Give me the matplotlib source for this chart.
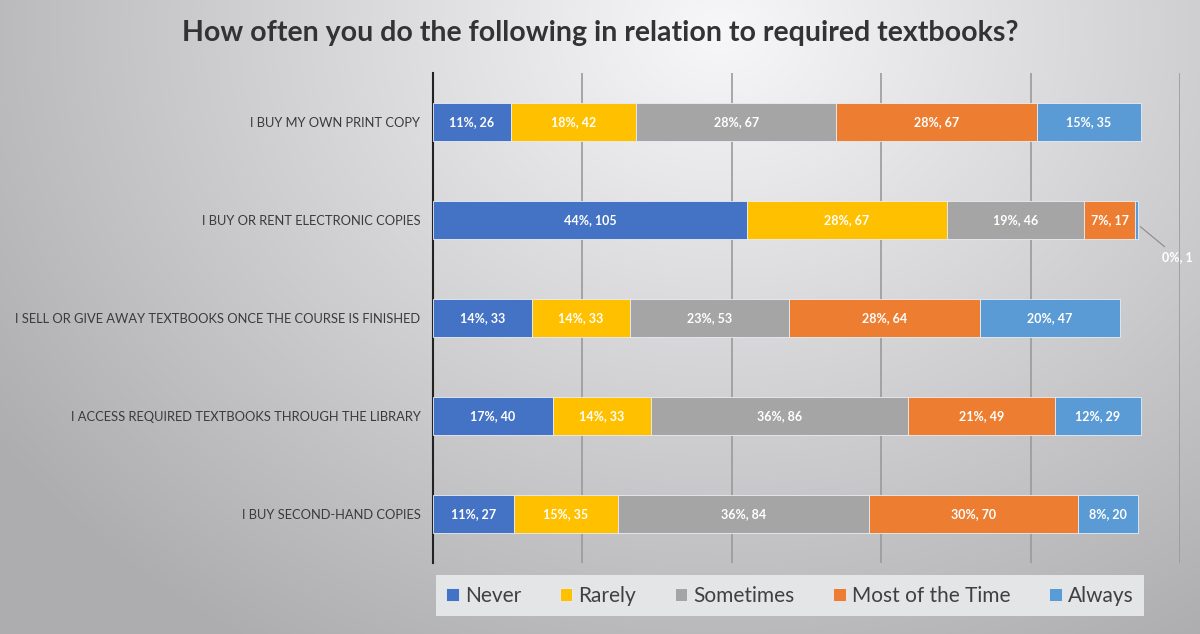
import numpy as np
import matplotlib
matplotlib.use("Agg")
import matplotlib.pyplot as plt

# ---- donnees ----
categories = [
    "I BUY MY OWN PRINT COPY",
    "I BUY OR RENT ELECTRONIC COPIES",
    "I SELL OR GIVE AWAY TEXTBOOKS ONCE THE COURSE IS FINISHED",
    "I ACCESS REQUIRED TEXTBOOKS THROUGH THE LIBRARY",
    "I BUY SECOND-HAND COPIES",
]
series = ["Never", "Rarely", "Sometimes", "Most of the Time", "Always"]
counts = {
    "Never":            [26, 105, 33, 40, 27],
    "Rarely":           [42, 67, 33, 33, 35],
    "Sometimes":        [67, 46, 53, 86, 84],
    "Most of the Time": [67, 17, 64, 49, 70],
    "Always":           [35, 1, 47, 29, 20],
}
pcts = {
    "Never":            [11, 44, 14, 17, 11],
    "Rarely":           [18, 28, 14, 14, 15],
    "Sometimes":        [28, 19, 23, 36, 36],
    "Most of the Time": [28, 7, 28, 21, 30],
    "Always":           [15, 0, 20, 12, 8],
}
colors = {
    "Never": "#4472C4",
    "Rarely": "#FFC000",
    "Sometimes": "#A5A5A5",
    "Most of the Time": "#ED7D31",
    "Always": "#5B9BD5",
}
title = "How often you do the following in relation to required textbooks?"

plt.rcParams['font.family'] = ['Lato', 'DejaVu Sans']

fig = plt.figure(figsize=(12, 6.34), dpi=100)

# fond en degrade radial
bg = fig.add_axes([0, 0, 1, 1], zorder=-10)
yy, xx = np.mgrid[0:634, 0:1200]
d = np.sqrt(((xx - 720) / 850.0) ** 2 + ((yy - 30) / 700.0) ** 2)
val = np.clip(0.97 - 0.28 * d, 0.68, 0.97)
bg.imshow(np.dstack([val, val, val * 1.01]).clip(0, 1), aspect='auto', extent=[0, 1, 0, 1])
bg.set_axis_off()

ax = fig.add_axes([433 / 1200, 1 - 563 / 634, (1180 - 433) / 1200, (563 - 73) / 634])
ax.patch.set_alpha(0)

y = np.arange(len(categories))
left = np.zeros(len(categories))
handles = []
for s in series:
    vals = np.array(counts[s], dtype=float)
    b = ax.barh(y, vals, left=left, height=0.39, color=colors[s],
                edgecolor='#e8eef6', linewidth=0.6, label=s, zorder=3)
    handles.append(b)
    for i, v in enumerate(vals):
        txt = f"{pcts[s][i]}%, {counts[s][i]}"
        if v >= 10:
            ax.text(left[i] + v / 2, y[i], txt, ha='center', va='center',
                    color='white', fontsize=9, fontweight='bold', zorder=4)
        else:
            xe = left[i] + v
            ax.annotate(txt, xy=(xe, y[i] + 0.05), xytext=(xe + 8, y[i] + 0.38),
                        color='white', fontsize=9, fontweight='bold',
                        ha='left', va='center', zorder=4,
                        arrowprops=dict(arrowstyle='-', color='#8a8a8a', lw=0.8))
    left += vals

ax.set_xlim(0, 250)
ax.set_ylim(len(categories) - 0.5, -0.5)
ax.set_xticks([50, 100, 150, 200, 250])
ax.set_xticklabels([])
ax.tick_params(axis='x', length=0)
ax.grid(axis='x', color='#9a9a9a', linewidth=1.2, zorder=0)
ax.set_yticks(y)
ax.set_yticklabels(categories, fontsize=9.3, color='#3a3a3a')
ax.tick_params(axis='y', length=0, pad=9)
for sp in ['top', 'right', 'bottom']:
    ax.spines[sp].set_visible(False)
ax.spines['left'].set_color('#222222')
ax.spines['left'].set_linewidth(1.5)

fig.text(0.5, 0.948, title, ha='center', va='center', fontsize=20.5,
         fontweight='bold', color='#333333')

leg = fig.legend(handles=handles, loc='lower left',
                 bbox_to_anchor=(440 / 1200, 1 - 612 / 634, 700 / 1200, 32 / 634),
                 mode='expand', ncol=5, frameon=True, fontsize=15,
                 handlelength=0.6, handleheight=0.6, handletextpad=0.3,
                 borderpad=0.3, borderaxespad=0)
leg.get_frame().set_facecolor('#e4e5e6')
leg.get_frame().set_edgecolor('none')
leg.get_frame().set_alpha(1)
leg.get_frame().set_boxstyle('square', pad=0.2)
for t in leg.get_texts():
    t.set_color('#404040')

fig.savefig("out.png", dpi=100)
